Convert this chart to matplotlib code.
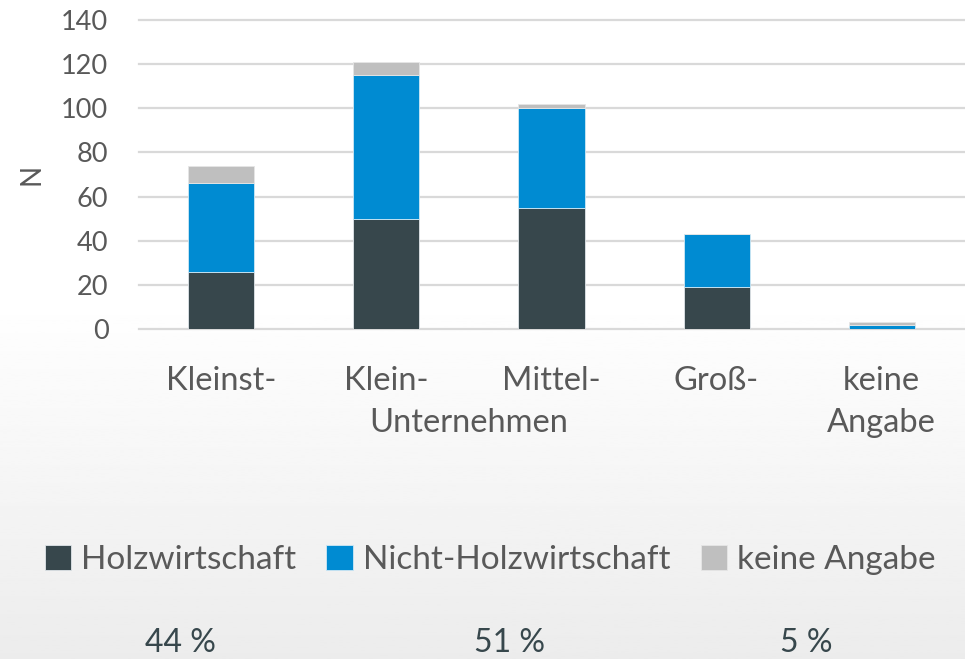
import numpy as np
import matplotlib as mpl
mpl.use('Agg')
import matplotlib.pyplot as plt

plt.rcParams['font.family'] = ['Lato', 'DejaVu Sans']

# data
categories = ["Kleinst-", "Klein-", "Mittel-", "Groß-", "keine\nAngabe"]
holz = [26, 50, 55, 19, 0]
nicht_holz = [40, 65, 45, 24, 2]
keine = [8, 6, 2, 0, 1]
series_names = ["Holzwirtschaft", "Nicht-Holzwirtschaft", "keine Angabe"]
shares = ["44 %", "51 %", "5 %"]

colors = ["#37474c", "#008bd2", "#bfbfbf"]
txt = "#595959"

fig = plt.figure(figsize=(9.65, 6.59), dpi=100)

# soft white-to-grey background
bg = fig.add_axes([0, 0, 1, 1], zorder=-10)
grad = np.linspace(0, 1, 256)[:, None]
grad = np.where(grad < 0.45, 0, (grad - 0.45) / 0.55)
bg.imshow(1 - grad * 0.075, cmap='gray', vmin=0, vmax=1, aspect='auto',
          extent=[0, 1, 0, 1], origin='upper')
bg.axis('off')

ax = fig.add_axes([0.144, 0.5008, 0.855, 0.4689])
ax.patch.set_alpha(0)
x = np.arange(len(categories))
w = 0.4
b1 = np.array(holz)
b2 = b1 + np.array(nicht_holz)
ax.bar(x, holz, w, color=colors[0], edgecolor='#e0e6ea', linewidth=0.6, label=series_names[0], zorder=3)
ax.bar(x, nicht_holz, w, bottom=b1, color=colors[1], edgecolor='#cfe8f5', linewidth=0.6, label=series_names[1], zorder=3)
ax.bar(x, keine, w, bottom=b2, color=colors[2], edgecolor='#e6e6e6', linewidth=0.6, label=series_names[2], zorder=3)

ax.set_xlim(-0.5, 4.5)
ax.set_ylim(0, 140)
ax.set_yticks(range(0, 141, 20))
for yv in range(0, 141, 20):
    ax.axhline(yv, color='#d9d9d9', linewidth=1.6, zorder=1, clip_on=False)
for s in ax.spines.values():
    s.set_visible(False)
ax.tick_params(axis='y', length=0, labelsize=19.5, labelcolor=txt, pad=22)
ax.set_xticks([])
ax.set_ylabel("N", fontsize=20, color=txt, labelpad=12)

# category labels, one line at a time
xt = ax.get_xaxis_transform()
for xi, c in zip(x, categories):
    for k, line in enumerate(c.split("\n")):
        ax.text(xi, -0.168 - 0.136 * k, line, transform=xt, ha='center', va='center',
                fontsize=23.5, color=txt)
ax.text(1.5, -0.304, "Unternehmen", transform=xt, ha='center', va='center',
        fontsize=23.5, color=txt)

fig.legend(loc='center', bbox_to_anchor=(0.508, 0.150), ncol=3, frameon=False,
           fontsize=24, handlelength=0.8, handleheight=0.8, handletextpad=0.3,
           columnspacing=0.9, labelcolor=txt, borderaxespad=0)

for xp, s in zip([0.187, 0.528, 0.835], shares):
    fig.text(xp, 0.025, s, ha='center', va='center', fontsize=23, color='#37474c')

fig.savefig('out.png', dpi=100)
